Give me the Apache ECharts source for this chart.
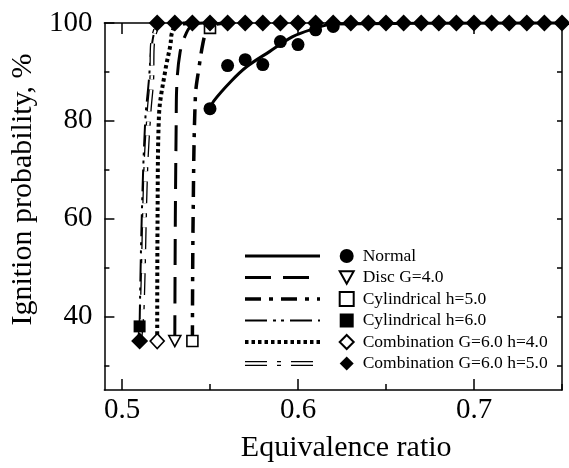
<!DOCTYPE html>
<html><head><meta charset="utf-8">
<script src="https://cdn.jsdelivr.net/npm/echarts@6/dist/echarts.min.js"></script>
<style>html,body{margin:0;padding:0;background:#fff}#c{width:569px;height:468px}</style>
</head><body><div id="c"></div>
<script>
const seriesNames = ['Normal','Disc G=4.0','Cylindrical h=5.0','Cylindrical h=6.0','Combination G=6.0 h=4.0','Combination G=6.0 h=5.0'];
const xTickValues = [0.5, 0.6, 0.7];
const xMinorTicks = [0.55, 0.65, 0.75];
const yTickValues = [40, 60, 80, 100];
const yMinorTicks = [30, 50, 70, 90];

// measured data points
const normalX = [0.55, 0.56, 0.57, 0.58, 0.59, 0.60, 0.61, 0.62];
const normalY = [82.5, 91.3, 92.5, 91.5, 96.2, 95.6, 98.6, 99.3];
const discX = [0.53];
const discY = [35];
const cyl5X = [0.54, 0.55];
const cyl5Y = [35, 99];
const cyl6X = [0.51];
const cyl6Y = [38];
const comb4X = [0.52];
const comb4Y = [35];
const comb5X = [0.51, 0.52, 0.53, 0.54, 0.55, 0.56, 0.57, 0.58, 0.59, 0.60, 0.61, 0.62, 0.63, 0.64, 0.65, 0.66, 0.67, 0.68, 0.69, 0.70, 0.71, 0.72, 0.73, 0.74, 0.75];
const comb5Y = [35, 100, 100, 100, 100, 100, 100, 100, 100, 100, 100, 100, 100, 100, 100, 100, 100, 100, 100, 100, 100, 100, 100, 100, 100];

// fitted curves
const normalFitX = [0.55, 0.552, 0.562, 0.571, 0.584, 0.597, 0.608, 0.62, 0.75];
const normalFitY = [82.5, 84.0, 88.1, 91.1, 94.2, 97.2, 98.7, 99.8, 100];
const discFitX = [0.530, 0.5303, 0.5308, 0.531, 0.533, 0.5366, 0.540, 0.546];
const discFitY = [35, 60, 80, 86, 94, 98, 99.6, 100];
const cyl5FitX = [0.540, 0.5404, 0.5417, 0.5438, 0.546, 0.5477, 0.551, 0.56];
const cyl5FitY = [35, 60, 85, 91, 95.9, 98, 99.5, 100];
const cyl6FitX = [0.510, 0.5112, 0.5132, 0.5152, 0.5168, 0.519, 0.522];
const cyl6FitY = [38, 60, 80, 88, 95, 98.8, 100];
const comb4FitX = [0.520, 0.5202, 0.521, 0.5247, 0.5275, 0.5284, 0.531, 0.54];
const comb4FitY = [35, 60, 81, 90.5, 95.5, 98, 99.6, 100];
const comb5FitX = [0.510, 0.5114, 0.5135, 0.5154, 0.5169, 0.5172, 0.519, 0.522];
const comb5FitY = [35, 41, 70, 82, 88.4, 95, 98.5, 100];

const zip = (xs, ys) => xs.map((x, i) => [x, ys[i]]);
const FONT = 'Liberation Serif';
const BLACK = '#000';

const lineStyles = {
  'Normal': [{type: 'solid', width: 3, color: BLACK}],
  'Disc G=4.0': [{type: [26, 12], width: 3, color: BLACK}],
  'Cylindrical h=5.0': [{type: [16, 8, 4, 8], width: 3.5, color: BLACK}],
  'Cylindrical h=6.0': [{type: [22, 6, 3, 5, 3, 6], width: 2, color: BLACK}],
  'Combination G=6.0 h=4.0': [{type: [3.5, 3], width: 4, color: BLACK}],
  'Combination G=6.0 h=5.0': [{type: [22, 10, 4, 10], width: 5, color: BLACK}, {type: [22, 10, 4, 10], width: 2.4, color: '#fff'}]
};
const fits = {
  'Normal': zip(normalFitX, normalFitY),
  'Disc G=4.0': zip(discFitX, discFitY),
  'Cylindrical h=5.0': zip(cyl5FitX, cyl5FitY),
  'Cylindrical h=6.0': zip(cyl6FitX, cyl6FitY),
  'Combination G=6.0 h=4.0': zip(comb4FitX, comb4FitY),
  'Combination G=6.0 h=5.0': zip(comb5FitX, comb5FitY)
};
const points = {
  'Normal': zip(normalX, normalY),
  'Disc G=4.0': zip(discX, discY),
  'Cylindrical h=5.0': zip(cyl5X, cyl5Y),
  'Cylindrical h=6.0': zip(cyl6X, cyl6Y),
  'Combination G=6.0 h=4.0': zip(comb4X, comb4Y),
  'Combination G=6.0 h=5.0': zip(comb5X, comb5Y)
};
const TRI = 'path://M0,0 L10,0 L5,9 Z';
const markers = {
  'Normal': {symbol: 'circle', size: 13, fill: BLACK},
  'Disc G=4.0': {symbol: TRI, size: [12, 11], fill: '#fff'},
  'Cylindrical h=5.0': {symbol: 'rect', size: 11, fill: '#fff'},
  'Cylindrical h=6.0': {symbol: 'rect', size: 12, fill: BLACK},
  'Combination G=6.0 h=4.0': {symbol: 'diamond', size: [14, 15], fill: '#fff'},
  'Combination G=6.0 h=5.0': {symbol: 'diamond', size: [17, 17], fill: BLACK}
};

const series = [];
seriesNames.forEach((n, k) => {
  lineStyles[n].forEach((ls, j) => {
    series.push({
      type: 'line', name: n + ' fit' + j, data: fits[n], smooth: 0.35, symbol: 'none',
      xAxisIndex: 0, yAxisIndex: 0, clip: false, z: 2 + j,
      lineStyle: {color: ls.color, width: ls.width, type: ls.type, cap: 'butt'}
    });
  });
});
seriesNames.forEach((n, k) => {
  const m = markers[n];
  series.push({
    type: 'scatter', name: n, data: points[n], symbol: m.symbol, symbolSize: m.size,
    xAxisIndex: 0, yAxisIndex: 0, clip: false, z: 5 + k,
    itemStyle: {color: m.fill, borderColor: BLACK, borderWidth: m.fill === BLACK ? 0 : 1.6, opacity: 1}
  });
});

// legend geometry
const LEG_ROW0 = 256, ROW = 21.5, LEG_ITEM_H = 18, LEG_LINE_X1 = 245, LEG_LINE_X2 = 320;
const graphics = [];
seriesNames.forEach((n, i) => {
  const y = LEG_ROW0 + i * ROW;
  lineStyles[n].forEach((ls, j) => {
    graphics.push({
      type: 'line', z: 100 + j,
      shape: {x1: LEG_LINE_X1, y1: y, x2: LEG_LINE_X2, y2: y},
      style: {stroke: ls.color, lineWidth: ls.width, lineDash: ls.type === 'solid' ? null : ls.type, lineCap: 'butt'}
    });
  });
});

const axisLineStyle = {color: BLACK, width: 1.5};
const xBase = {type: 'value', min: 0.49, max: 0.75, gridIndex: 0, splitLine: {show: false}};
const yBase = {type: 'value', min: 25, max: 100, gridIndex: 0, splitLine: {show: false}};

const option = {
  animation: false,
  backgroundColor: '#fff',
  grid: {left: 95, right: 7, top: 23, bottom: 74, containLabel: false},
  xAxis: [
    Object.assign({}, xBase, {
      position: 'bottom',
      axisLine: {show: true, lineStyle: axisLineStyle},
      axisTick: {inside: true, length: 11, customValues: xTickValues, lineStyle: axisLineStyle},
      axisLabel: {customValues: xTickValues, fontFamily: FONT, fontSize: 29, color: BLACK, margin: 6},
      name: 'Equivalence ratio', nameLocation: 'middle', nameGap: 43,
      nameTextStyle: {fontFamily: FONT, fontSize: 30, color: BLACK, padding: [0, 0, 0, 26]}
    }),
    Object.assign({}, xBase, {
      position: 'bottom', axisLine: {show: false},
      axisTick: {inside: true, length: 6, customValues: xMinorTicks, lineStyle: axisLineStyle},
      axisLabel: {show: false}
    }),
    Object.assign({}, xBase, {
      position: 'top', axisLine: {show: true, lineStyle: axisLineStyle},
      axisTick: {inside: true, length: 11, customValues: xTickValues, lineStyle: axisLineStyle},
      axisLabel: {show: false}
    }),
    Object.assign({}, xBase, {
      position: 'top', axisLine: {show: false},
      axisTick: {inside: true, length: 6, customValues: xMinorTicks, lineStyle: axisLineStyle},
      axisLabel: {show: false}
    })
  ],
  yAxis: [
    Object.assign({}, yBase, {
      position: 'left',
      axisLine: {show: true, lineStyle: axisLineStyle},
      axisTick: {inside: true, length: 10, customValues: yTickValues, lineStyle: axisLineStyle},
      axisLabel: {customValues: yTickValues, fontFamily: FONT, fontSize: 29, color: BLACK, margin: 12},
      name: 'Ignition probability, %', nameLocation: 'middle', nameGap: 50,
      nameTextStyle: {fontFamily: FONT, fontSize: 30, color: BLACK, padding: [0, 0, 0, 34]}
    }),
    Object.assign({}, yBase, {
      position: 'left', axisLine: {show: false},
      axisTick: {inside: true, length: 5, customValues: yMinorTicks, lineStyle: axisLineStyle},
      axisLabel: {show: false}
    }),
    Object.assign({}, yBase, {
      position: 'right', axisLine: {show: true, lineStyle: axisLineStyle},
      axisTick: {inside: true, length: 5, customValues: yTickValues.concat(yMinorTicks), lineStyle: axisLineStyle},
      axisLabel: {show: false}
    })
  ],
  legend: {
    data: seriesNames, orient: 'vertical', left: 338.7, top: LEG_ROW0 - LEG_ITEM_H / 2,
    itemWidth: 14, itemHeight: 14, itemGap: ROW - LEG_ITEM_H, selectedMode: false, padding: 0,
    textStyle: {fontFamily: FONT, fontSize: 17.5, color: BLACK, lineHeight: LEG_ITEM_H, padding: [0, 0, 0, 4]}
  },
  graphic: graphics,
  series: series
};
const chart = echarts.init(document.getElementById('c'), null, {renderer: 'canvas'});
chart.setOption(option);
</script>
</body></html>
